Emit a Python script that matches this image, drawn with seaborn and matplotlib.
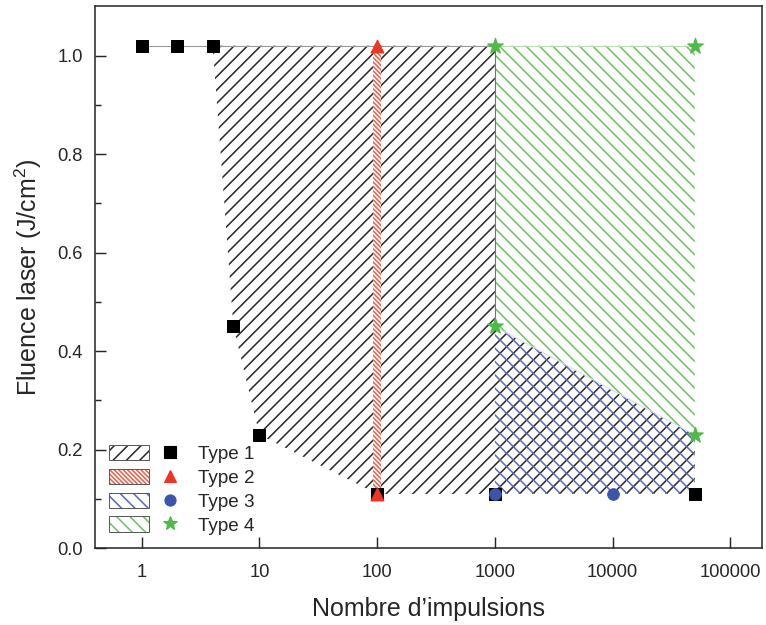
import numpy as np
import pandas as pd
import matplotlib.pyplot as plt
import matplotlib.patches as mpatches
from matplotlib.lines import Line2D
from matplotlib.legend_handler import HandlerTuple
import seaborn as sns

# points
type1_x = [1, 2, 4, 6, 10, 100, 1000, 50000]
type1_y = [1.02, 1.02, 1.02, 0.45, 0.23, 0.11, 0.11, 0.11]
type2_x = [100, 100]
type2_y = [1.02, 0.11]
type3_x = [1000, 10000]
type3_y = [0.11, 0.11]
type4_x = [1000, 50000, 1000, 50000]
type4_y = [1.02, 1.02, 0.45, 0.23]

# domain outlines (corners)
zone1_x = [4, 1000, 1000, 50000, 50000, 100, 10, 6]
zone1_y = [1.02, 1.02, 0.45, 0.23, 0.11, 0.11, 0.23, 0.45]
zone2_x = [93, 108, 108, 93]
zone2_y = [1.02, 1.02, 0.11, 0.11]
zone3_x = [1000, 50000, 50000, 1000]
zone3_y = [0.45, 0.23, 0.11, 0.11]
zone4_x = [1000, 50000, 50000, 1000]
zone4_y = [1.02, 1.02, 0.23, 0.45]

labels = ["Type 1", "Type 2", "Type 3", "Type 4"]
xticks = [1, 10, 100, 1000, 10000, 100000]

sns.set_style("ticks")
plt.rcParams['font.family'] = ['Liberation Sans', 'DejaVu Sans']
plt.rcParams['mathtext.default'] = 'regular'
plt.rcParams['hatch.linewidth'] = 1.4

c_noir = "#000000"
c_rouge = "#ee3424"
c_bleu = "#3b55ad"
c_vert = "#4dbb46"
h_noir = "#2a2a2a"
h_rouge = "#f0604a"
h_bleu = "#5a6bb8"
h_vert = "#6cc262"

fig = plt.figure(figsize=(9.575, 7.8125), dpi=80)
ax = fig.add_axes([0.124, 0.123, 0.871, 0.867])

# zones hachurees
ax.fill(zone1_x, zone1_y, facecolor="none", edgecolor=h_noir, lw=0, hatch="//", zorder=1)
ax.fill(zone3_x, zone3_y, facecolor="none", edgecolor=h_bleu, lw=0, hatch="\\\\", zorder=1)
ax.fill(zone4_x, zone4_y, facecolor="none", edgecolor=h_vert, lw=0, hatch="\\\\", zorder=1)
ax.fill(zone2_x, zone2_y, facecolor="white", edgecolor=h_rouge, lw=0, hatch="\\\\\\\\\\\\", zorder=2)

# traits fins
ax.plot(type1_x[:3] + [1000], type1_y[:3] + [1.02], color="0.6", lw=1, zorder=2)
ax.plot(type4_x[:2], type4_y[:2], color="#b8dfb2", lw=1, zorder=2)
ax.plot([type4_x[0], type4_x[2]], [type4_y[0], type4_y[2]], color="0.45", lw=1, zorder=2)
ax.plot(type4_x[2:], type4_y[2:], color="#d8dcee", lw=1, zorder=2)

# points
sns.scatterplot(x=type1_x, y=type1_y, marker="s", s=125, color=c_noir, edgecolor=c_noir, ax=ax, zorder=3)
sns.scatterplot(x=type2_x, y=type2_y, marker="^", s=135, color=c_rouge, edgecolor=c_rouge, ax=ax, zorder=4)
sns.scatterplot(x=type3_x, y=type3_y, marker="o", s=110, color=c_bleu, edgecolor=c_bleu, ax=ax, zorder=4)
sns.scatterplot(x=type4_x, y=type4_y, marker="*", s=210, color=c_vert, edgecolor=c_vert, ax=ax, zorder=5)

ax.set_xscale("log")
ax.set_xlim(0.4, 187000)
ax.set_ylim(0, 1.1)
ax.set_xticks(xticks)
ax.set_xticklabels([str(t) for t in xticks])
ax.xaxis.set_minor_locator(plt.NullLocator())
ax.set_yticks(np.arange(0, 1.01, 0.2))
ax.set_yticks(np.arange(0.1, 1.01, 0.2), minor=True)
ax.yaxis.set_major_formatter(plt.FormatStrFormatter("%.1f"))
ax.tick_params(which="major", direction="in", length=10, width=1.3, labelsize=16.5)
ax.tick_params(which="minor", direction="in", length=5.5, width=1.3)
ax.tick_params(axis="x", pad=14)
ax.tick_params(axis="y", pad=11)
for sp in ax.spines.values():
    sp.set_linewidth(1.4)
    sp.set_visible(True)

ax.set_xlabel("Nombre d\u2019impulsions", fontsize=22.5, labelpad=15)
ax.set_ylabel("Fluence laser (J/cm$^2$)", fontsize=22.5, labelpad=12)

# legende: patch hachure + marqueur
hatchs = ["//", "\\\\\\\\\\\\", "\\\\", "\\\\"]
hcols = [h_noir, h_rouge, h_bleu, h_vert]
mk = ["s", "^", "o", "*"]
mcols = [c_noir, c_rouge, c_bleu, c_vert]
msz = [10, 11, 10, 13]
handles = []
for i in range(4):
    p = mpatches.Patch(facecolor="white", edgecolor="0.35", lw=0.9, hatch=hatchs[i])
    p._hatch_color = plt.matplotlib.colors.to_rgba(hcols[i])
    m = Line2D([], [], ls="none", marker=mk[i], color=mcols[i], markersize=msz[i])
    handles.append((p, m))
ax.legend(handles, labels, handler_map={tuple: HandlerTuple(ndivide=None, pad=0.05)},
          loc="lower left", bbox_to_anchor=(0.0, 0.0), frameon=False, fontsize=17,
          handlelength=4.3, handleheight=0.85, handletextpad=0.42, labelspacing=0.31,
          borderpad=0.5, borderaxespad=0.22)

fig.savefig("out.png", dpi=80)
